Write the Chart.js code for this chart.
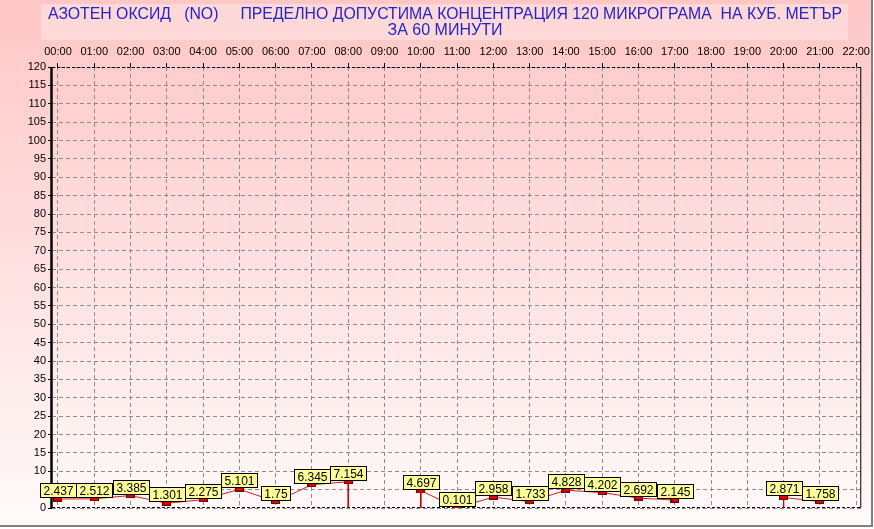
<!DOCTYPE html>
<html>
<head>
<meta charset="utf-8">
<script src="https://cdn.jsdelivr.net/npm/chart.js@4"></script>
<style>
  html, body { margin: 0; padding: 0; background: #fff; }
  canvas { display: block; }
</style>
</head>
<body>
<canvas id="noChart" width="874" height="529"></canvas>
<script>
    const titleLines = [
      'АЗОТЕН ОКСИД   (NO)     ПРЕДЕЛНО ДОПУСТИМА КОНЦЕНТРАЦИЯ 120 МИКРОГРАМА  НА КУБ. МЕТЪР',
      'ЗА 60 МИНУТИ'
    ];
    const hours = ['00:00', '01:00', '02:00', '03:00', '04:00', '05:00', '06:00', '07:00', '08:00', '09:00', '10:00', '11:00',
      '12:00', '13:00', '14:00', '15:00', '16:00', '17:00', '18:00', '19:00', '20:00', '21:00', '22:00'];
    const values = [2.437, 2.512, 3.385, 1.301, 2.275, 5.101, 1.75, 6.345, 7.154, null, 4.697, 0.101,
      2.958, 1.733, 4.828, 4.202, 2.692, 2.145, null, null, 2.871, 1.758, null];
    // hours where the series drops straight to zero
    const dropHours = ['08:00', '10:00', '20:00'];

    // little red marker used as point style
    const marker = document.createElement('canvas');
    marker.width = 9;
    marker.height = 5;
    const mctx = marker.getContext('2d');
    mctx.fillStyle = '#e00000';
    mctx.fillRect(0, 0, 9, 5);
    mctx.strokeStyle = '#700000';
    mctx.lineWidth = 1;
    mctx.strokeRect(0.5, 0.5, 8, 4);

    const points = hours.map((h, i) => ({ x: i, y: values[i] }));
    const drops = [];
    dropHours.forEach(h => {
      const i = hours.indexOf(h);
      drops.push({ x: i, y: values[i] }, { x: i, y: 0 }, { x: i, y: null });
    });

    const backdrop = {
      id: 'backdrop',
      beforeDraw(chart) {
        const c = chart.ctx;
        const W = chart.width, H = chart.height;
        c.save();
        c.fillStyle = '#ffffff';
        c.fillRect(0, 0, W, H);
        const g = c.createLinearGradient(0, 0, 0, 525);
        g.addColorStop(0, '#ffc6c6');
        g.addColorStop(1, '#fffafa');
        c.fillStyle = g;
        c.fillRect(0, 0, 871, 525);
        // window edge
        c.fillStyle = '#808080';
        c.fillRect(0, 525, 873, 2);
        c.fillRect(871, 0, 2, 527);
        // title box
        c.fillStyle = 'rgba(255,255,255,0.3)';
        c.fillRect(41, 4, 807, 36);
        c.fillStyle = '#2424c8';
        c.font = '16px "Liberation Sans Narrow", "Liberation Sans", Arial, sans-serif';
        c.textAlign = 'center';
        c.textBaseline = 'middle';
        c.fillText(titleLines[0], 445, 15, 794);
        c.fillText(titleLines[1], 445, 31);
        c.restore();
      },
      beforeDatasetsDraw(chart) {
        const { left, right, top, bottom } = chart.chartArea;
        const c = chart.ctx;
        c.save();
        c.strokeStyle = '#000';
        c.lineWidth = 1;
        c.setLineDash([3, 2]);
        c.beginPath();
        c.moveTo(left, top + 0.5); c.lineTo(right, top + 0.5);
        c.moveTo(left, bottom - 0.5); c.lineTo(right, bottom - 0.5);
        c.stroke();
        c.setLineDash([]);
        c.beginPath();
        c.moveTo(right - 0.5, top); c.lineTo(right - 0.5, bottom);
        c.stroke();
        c.lineWidth = 2.5;
        c.beginPath();
        c.moveTo(left - 0.5, top); c.lineTo(left - 0.5, bottom);
        c.stroke();
        c.restore();
      },
      afterDatasetsDraw(chart) {
        const c = chart.ctx;
        const xs = chart.scales.x, ys = chart.scales.y;
        c.save();
        c.font = '12px "Liberation Sans", Arial, sans-serif';
        c.textAlign = 'center';
        c.textBaseline = 'middle';
        values.forEach((v, i) => {
          if (v === null) return;
          const px = xs.getPixelForValue(i);
          const py = ys.getPixelForValue(v);
          const txt = String(v);
          const w = Math.round(c.measureText(txt).width) + 6;
          const h = 14;
          const bx = Math.round(px - w / 2) + 0.5;
          const by = Math.round(py - 2 - h) + 0.5;
          c.fillStyle = '#ffff99';
          c.fillRect(bx, by, w, h);
          c.strokeStyle = '#000';
          c.lineWidth = 1;
          c.strokeRect(bx, by, w, h);
          c.fillStyle = '#000';
          c.fillText(txt, bx + w / 2, by + h / 2 + 1);
        });
        c.restore();
      }
    };

    const ctx = document.getElementById('noChart').getContext('2d');
    const chart = new Chart(ctx, {
      type: 'line',
      data: {
        datasets: [{
          label: 'NO',
          data: points,
          borderColor: '#d02020',
          borderWidth: 1,
          pointStyle: marker,
          spanGaps: false,
          order: 1,
        }, {
          label: 'drops',
          data: drops,
          borderColor: '#d00000',
          borderWidth: 1,
          pointRadius: 0,
          spanGaps: false,
          order: 2,
        }],
      },
      options: {
        responsive: false,
        animation: false,
        devicePixelRatio: 1,
        layout: { padding: { top: 40, left: 0, right: 8, bottom: 21 } },
        plugins: {
          legend: { display: false },
          tooltip: { enabled: false },
        },
        scales: {
          x: {
            type: 'linear',
            position: 'top',
            min: -0.165,
            max: 22.14,
            afterBuildTicks(scale) {
              scale.ticks = hours.map((h, i) => ({ value: i }));
            },
            afterFit(scale) { scale.height = 27; },
            ticks: {
              autoSkip: false,
              maxRotation: 0,
              padding: 4,
              color: '#000',
              font: { family: '"Liberation Sans", Arial, sans-serif', size: 11 },
              callback: (v) => hours[v],
            },
            grid: {
              color: '#8c8c8c',
              tickColor: '#000',
              tickLength: 4,
              tickBorderDash: [],
            },
            border: { display: false, dash: [4, 3] },
          },
          y: {
            min: 0,
            max: 120,
            afterFit(scale) { scale.width = 52; },
            ticks: {
              stepSize: 5,
              padding: 2,
              color: '#000',
              font: { family: '"Liberation Sans", Arial, sans-serif', size: 11 },
            },
            grid: {
              color: '#8c8c8c',
              tickColor: '#000',
              tickLength: 4,
              tickBorderDash: [],
            },
            border: { display: false, dash: [4, 3] },
          },
        },
      },
      plugins: [backdrop],
    });
</script>
</body>
</html>
